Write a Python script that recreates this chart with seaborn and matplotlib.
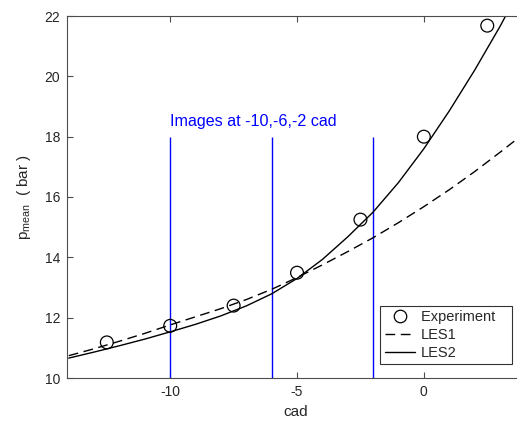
import matplotlib
matplotlib.use("Agg")
import matplotlib.pyplot as plt
import seaborn as sns
import pandas as pd
from matplotlib.lines import Line2D

# ---- data ----
exp_cad = [-12.5, -10, -7.5, -5, -2.5, 0, 2.5]
exp_p = [11.18, 11.73, 12.40, 13.49, 15.25, 18.0, 21.68]

les1_cad = [-14, -13, -12, -11, -10, -9, -8, -7, -6, -5, -4, -3, -2, -1, 0, 1, 2, 3, 3.7]
les1_p = [10.74, 10.97, 11.22, 11.48, 11.76, 12.03, 12.30, 12.60, 12.94, 13.33, 13.75,
          14.19, 14.65, 15.15, 15.68, 16.24, 16.84, 17.48, 17.94]

les2_cad = [-14, -13, -12, -11, -10, -9, -8, -7, -6, -5, -4, -3, -2, -1, 0, 1, 2, 3, 3.3]
les2_p = [10.66, 10.86, 11.07, 11.29, 11.53, 11.78, 12.06, 12.39, 12.79, 13.30, 13.93,
          14.68, 15.50, 16.48, 17.60, 18.85, 20.20, 21.65, 22.12]

image_cad = [-10, -6, -2]
xticks = [-10, -5, 0]
yticks = [10, 12, 14, 16, 18, 20, 22]
legend_labels = ["Experiment", "LES1", "LES2"]

sns.set_theme(style="white")
plt.rcParams['font.family'] = ['Liberation Sans', 'DejaVu Sans']
plt.rcParams['mathtext.fontset'] = 'custom'
plt.rcParams['mathtext.rm'] = 'Liberation Sans'
plt.rcParams['mathtext.it'] = 'Liberation Sans'

W, H = 517, 423
fig = plt.figure(figsize=(W / 100, H / 100), dpi=100)
left = 67 / W
bottom = 1 - 378 / H
top = 1 - 16 / H
right = 525.3 / W
ax = fig.add_axes([left, bottom, right - left, top - bottom])

df1 = pd.DataFrame({"cad": les1_cad, "p": les1_p})
df2 = pd.DataFrame({"cad": les2_cad, "p": les2_p})
dfe = pd.DataFrame({"cad": exp_cad, "p": exp_p})

ax.vlines(image_cad, 10, 18, color=(0, 0, 1), lw=1.0, zorder=1)
sns.lineplot(data=df1, x="cad", y="p", ax=ax, color="black", lw=1.0,
             dashes=False, linestyle=(0, (7, 4)), zorder=2)
sns.lineplot(data=df2, x="cad", y="p", ax=ax, color="black", lw=1.0, zorder=2)
sns.scatterplot(data=dfe, x="cad", y="p", ax=ax, marker="o", s=85,
                facecolor="none", edgecolor="black", linewidth=0.9, zorder=3)

ax.text(-10, 18.35, "Images at -10,-6,-2 cad", color=(0, 0, 1), fontsize=11.6,
        ha="left", va="baseline")

ax.set_xlim(-14.07, 4)
ax.set_ylim(10, 22)
ax.set_xticks(xticks)
ax.set_yticks(yticks)
ax.set_xticklabels([str(t) for t in xticks])
ax.set_yticklabels([str(t) for t in yticks])

grey = "#262626"
for s in ["left", "bottom", "top", "right"]:
    ax.spines[s].set_color("#4d4d4d")
    ax.spines[s].set_linewidth(0.8)
ax.tick_params(direction="in", length=4, width=0.8, color="#4d4d4d",
               labelsize=10, labelcolor=grey, top=True, right=True,
               left=True, bottom=True, pad=5)

ax.set_xlabel("cad", fontsize=11, color=grey, labelpad=4)
ax.set_ylabel(r"p$_{\mathregular{mean}}$  ( bar )", fontsize=11, color=grey, labelpad=8)

handles = [
    Line2D([], [], marker="o", markersize=9, markerfacecolor="none",
           markeredgecolor="black", markeredgewidth=0.9, linestyle="none"),
    Line2D([], [], color="black", lw=1.0, linestyle=(0, (7, 4))),
    Line2D([], [], color="black", lw=1.0),
]
leg = ax.legend(handles, [legend_labels[0] + "   ", legend_labels[1], legend_labels[2]],
                loc="lower right",
                bbox_to_anchor=((512 - 67) / (525.3 - 67), (378 - 364) / 362),
                fontsize=10.5, frameon=True, fancybox=False, handlelength=2.1,
                handletextpad=0.4, borderpad=0.3, labelspacing=0.25,
                borderaxespad=0)
leg.get_frame().set_edgecolor("black")
leg.get_frame().set_linewidth(0.8)

fig.savefig("out.png", dpi=100)
